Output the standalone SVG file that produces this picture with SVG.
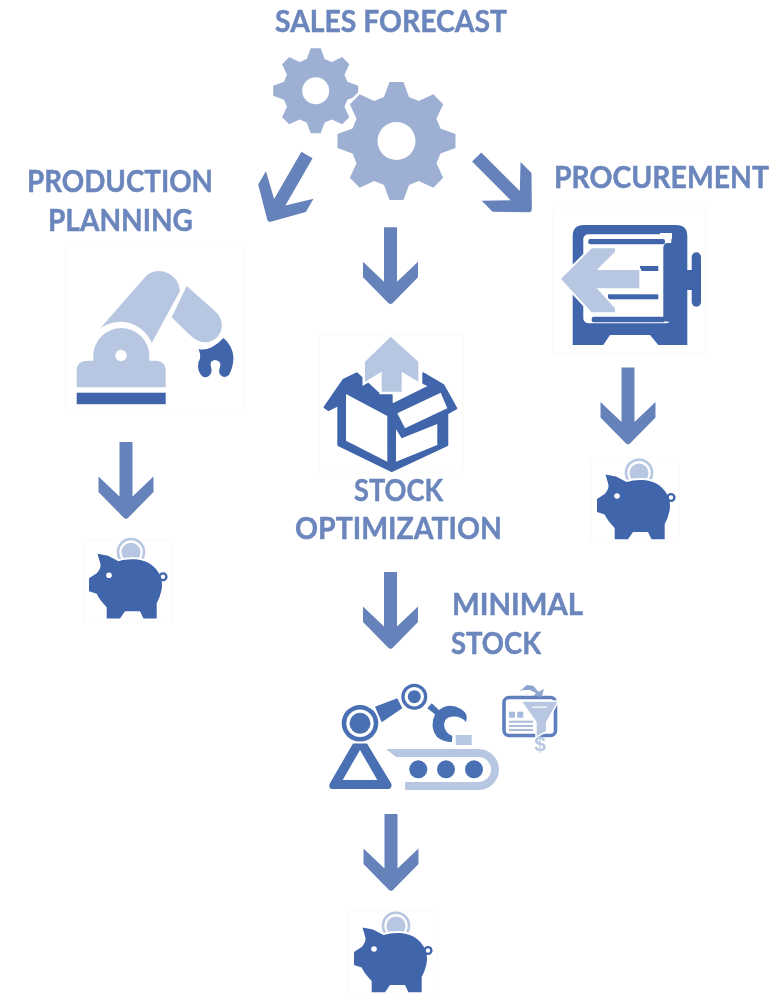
<svg xmlns="http://www.w3.org/2000/svg" xmlns:xlink="http://www.w3.org/1999/xlink" width="782" height="993" viewBox="0 0 782 993">
<style>
.lbl{font-family:"Lato","Liberation Sans",sans-serif;font-weight:700;font-size:30px;fill:#6A86BC;stroke:#6A86BC;stroke-width:.45}
.arr{fill:#6582BB}
.dk{fill:#3F65AB}
.mid{fill:#4A6FB3}
.lt{fill:#B7C7E1}
.w{fill:#fff}
.frame{fill:#fff;stroke:#f9fafb;stroke-width:1}
.gear{fill:#9DB0D3}
</style>
<defs>
<filter id="soft" x="0" y="0" width="100%" height="100%"><feGaussianBlur stdDeviation="0.45"/></filter>
<polygon id="arrow" points="-6.5,0 6.5,0 6.5,54.5 27.5,34.5 27.5,50 2,76 0,77 -2,76 -27.5,50 -27.5,34.5 -6.5,54.5"/>
<polygon id="gearShape" points="-12.5,-44 -7,-59 7,-59 12.5,-44 22.27,-39.95 36.77,-46.67 46.67,-36.77 39.95,-22.27 44,-12.5 59,-7 59,7 44,12.5 39.95,22.27 46.67,36.77 36.77,46.67 22.27,39.95 12.5,44 7,59 -7,59 -12.5,44 -22.27,39.95 -36.77,46.67 -46.67,36.77 -39.95,22.27 -44,12.5 -59,7 -59,-7 -44,-12.5 -39.95,-22.27 -46.67,-36.77 -36.77,-46.67 -22.27,-39.95"/>
<path id="pigBody" d="M354 952 L361.7 947 Q366 942 365.5 938 L362.5 927.5 L373 929.5 L383.5 935 C395 931.5 409 932.5 417 939 C425 945 428.5 955 426.5 964 Q425 971 421.7 977 V992.3 H408.5 L405 985 H390 L385 992.3 H371.7 V981 Q364 973 361.7 967.5 L354 965 Z"/>
<g id="pig">
<circle cx="396" cy="925.7" r="13" fill="#fff" stroke="#B7C7E1" stroke-width="2.6"/>
<circle cx="396" cy="926" r="9.5" class="lt"/>
<use xlink:href="#pigBody" href="#pigBody" fill="#fff" stroke="#fff" stroke-width="4"/>
<use xlink:href="#pigBody" href="#pigBody" class="dk"/>
<circle cx="428" cy="950.5" r="3.4" fill="none" stroke="#3F65AB" stroke-width="2.4"/>
<circle cx="374" cy="949" r="2.8" class="w"/>
</g>
</defs>
<g filter="url(#soft)">
<g id="connectors" class="arr">
<use xlink:href="#arrow" href="#arrow" transform="translate(390.5,227.3)"/>
<use xlink:href="#arrow" href="#arrow" transform="translate(390.5,572)"/>
<use xlink:href="#arrow" href="#arrow" transform="translate(391,814)"/>
<use xlink:href="#arrow" href="#arrow" transform="translate(628,367.5)"/>
<use xlink:href="#arrow" href="#arrow" transform="translate(126,442)"/>
<use xlink:href="#arrow" href="#arrow" transform="translate(307,155) rotate(30)"/>
<use xlink:href="#arrow" href="#arrow" transform="translate(476.7,157) rotate(-45)"/>
</g>
<g id="sales-forecast">
<text class="lbl" x="275" y="32" textLength="232" lengthAdjust="spacingAndGlyphs">SALES FORECAST</text>
<g class="gear">
<use xlink:href="#gearShape" href="#gearShape" transform="translate(315.7,90.7) scale(0.72)"/>
<use xlink:href="#gearShape" href="#gearShape" transform="translate(396.5,141)" stroke="#fff" stroke-width="5" paint-order="stroke"/>
</g>
<circle cx="315.7" cy="90.7" r="13.5" class="w"/>
<circle cx="396.5" cy="141" r="19" class="w"/>
</g>
<g id="production-planning">
<text class="lbl" x="27" y="191.5" textLength="186" lengthAdjust="spacingAndGlyphs">PRODUCTION</text>
<text class="lbl" x="48" y="231" textLength="145" lengthAdjust="spacingAndGlyphs">PLANNING</text>
<rect class="frame" x="66" y="243" width="177" height="170"/>
<path class="lt" d="M76.7 387.3 V371 Q76.7 360.7 87 360.7 H93.3 V356 A28 28 0 0 1 149.3 356 V360.7 H155 Q165.7 360.7 165.7 371 V387.3 Z"/>
<circle cx="121" cy="355.5" r="5.7" class="w"/>
<rect class="dk" x="76.7" y="392.7" width="89" height="11.5"/>
<path class="lt" d="M100 328.5 L147 275 A21 21 0 0 1 180 291 L151.7 343 A34 34 0 0 0 100 328.5 Z"/>
<path class="lt" d="M186.7 286 L216 312 C224 320 224 332 215 339 C207 345 198 342 192 337 L171.7 317.3 Z"/>
<path class="dk" d="M198.5 349 Q210 352 223.5 338 Q233 346 233.5 358 Q233 368 229 375 Q224 379 220.5 375 Q218 372 220 367 Q222 362 216 360 Q209 360 211 367 Q213 372 209 376 Q204 379 201 375 Q197 370 198.5 362 Q202 357 198.5 349 Z"/>
</g>
<g id="stock-optimization">
<rect class="frame" x="319" y="335" width="144" height="137"/>
<path class="dk" stroke="#3F65AB" stroke-width="2" stroke-linejoin="round" d="M324.5 407.3 L343.3 380 L356.7 373.3 L378 393 L391.7 395 V405 L430 386 L423.3 383 V373.3 L443.3 385 L456.3 408.3 L447.3 413.3 V445 L391.7 471 L338.3 445 V405 L328.3 410 Z"/>
<polygon class="w" points="346,394 387.3,416 387.3,461.7 346,440.7"/>
<polygon class="w" points="396,429.3 401.7,438.3 437.3,424 437.3,445 396,461.7"/>
<polygon class="w" points="397.3,413.3 440.7,392.7 447.3,408.3 405,428.3"/>
<polygon class="lt" stroke="#fff" stroke-width="5" paint-order="stroke" points="390.7,336.7 418.3,361.7 418.3,381.7 401.7,371.7 401.7,391.7 381.7,391.7 381.7,371.7 365,381.7 365,361.7"/>
<text class="lbl" x="354" y="501" textLength="89" lengthAdjust="spacingAndGlyphs">STOCK</text>
<text class="lbl" x="295" y="539" textLength="207" lengthAdjust="spacingAndGlyphs">OPTIMIZATION</text>
</g>
<g id="procurement">
<text class="lbl" x="554" y="188" textLength="215" lengthAdjust="spacingAndGlyphs">PROCUREMENT</text>
<rect class="frame" x="553" y="208" width="152" height="145"/>
<path class="dk" d="M572.7 345 V236 Q572.7 225 584 225 H676 Q687.3 225 687.3 236 V345 H658.3 L650 335 H610 L603.3 345 Z"/>
<rect class="w" x="583.3" y="234.3" width="88" height="89" rx="5"/>
<rect class="dk" x="588.3" y="239" width="76.7" height="5.3" rx="2"/>
<rect class="dk" x="591.7" y="316.7" width="73.3" height="5.6" rx="2"/>
<rect class="w" x="660" y="233" width="12" height="6"/>
<path class="dk" d="M672.5 238 H686 V324 H672.5 V321.7 H668 Q663.3 321.7 663.3 317 V248 Q663.3 243 668 243 H672.5 Z"/>
<rect class="dk" x="685" y="270" width="8" height="20"/>
<rect class="dk" x="691.7" y="252.3" width="9.3" height="54.4" rx="4.6"/>
<rect class="dk" x="640" y="266" width="18.3" height="5"/>
<rect class="dk" x="608" y="294.3" width="50.3" height="5"/>
<polygon class="lt" stroke="#fff" stroke-width="4" paint-order="stroke" stroke-linejoin="round" points="561,279 591.7,248.3 615,248.3 615,251.7 596.7,270 639.3,270 639.3,288.3 596.7,288.3 615,308.3 615,312.3 591.7,312.3"/>
</g>
<g id="minimal-stock">
<text class="lbl" x="452" y="615" textLength="131" lengthAdjust="spacingAndGlyphs">MINIMAL</text>
<text class="lbl" x="451" y="654" textLength="90" lengthAdjust="spacingAndGlyphs">STOCK</text>
</g>
<g id="factory">
<circle cx="360" cy="723.3" r="18.3" class="mid"/>
<circle cx="360" cy="723.3" r="13.7" class="w"/>
<circle cx="360" cy="723.3" r="10.5" class="mid"/>
<circle cx="414.3" cy="696.7" r="13" class="mid"/>
<circle cx="414.3" cy="696.7" r="9.7" class="w"/>
<circle cx="414.3" cy="696.7" r="6.5" class="mid"/>
<polygon class="mid" points="375,706.7 397.3,698.3 402.3,708.3 381.7,722.3"/>
<path class="mid" fill-rule="evenodd" d="M353 743.5 H367 L391.5 784 Q392 789 388 789 H332 Q328.5 789 329.5 784 Z M360 750 L342.7 780 H377.3 Z"/>
<path class="mid" d="M431.7 703.3 L427.3 708.3 L435 714.3 Q429 727 437 737 Q443 742 452 742 L452.3 736 Q445 733 444 725 Q444 717 453 716.5 Q461 716 466 722 Q469 714 461 709 Q449 702 439 710 Z"/>
<rect class="lt" x="455.7" y="735" width="16" height="10"/>
<path class="lt" d="M386 749 H478.5 A20.5 20.5 0 0 1 478.5 790 H405 V782 H478.5 A12.5 12.5 0 0 0 478.5 757 H396 Z"/>
<circle cx="418.3" cy="769.3" r="9" class="mid"/>
<circle cx="446" cy="769.3" r="9" class="mid"/>
<circle cx="474" cy="769.3" r="9" class="mid"/>
</g>
<g id="funnel">
<rect x="504" y="697.5" width="51.5" height="38" rx="5" fill="#fff" stroke="#5F80BC" stroke-width="3.6"/>
<rect x="509" y="711.7" width="6" height="6" fill="#A9BBDA"/>
<rect x="517.3" y="711.7" width="6" height="6" fill="#A9BBDA"/>
<rect x="509" y="720.7" width="24" height="2" fill="#A9BBDA"/>
<rect x="509" y="725" width="24" height="2" fill="#A9BBDA"/>
<rect x="509" y="729" width="24" height="2" fill="#A9BBDA"/>
<polygon class="lt" stroke="#fff" stroke-width="3" paint-order="stroke" points="522.3,701.7 557.3,701.7 546,722 546,731 536.7,736 536.7,722"/>
<rect class="w" x="532" y="706.5" width="15" height="1.2"/>
<polygon fill="#8FA6CE" points="519.3,691.7 526.7,685 533.3,685.7 538.3,691.7 544,689 541.7,696.7 533.3,695.7 536,693 530,690 523,690"/>
<text x="540" y="750.5" text-anchor="middle" font-family="'Liberation Sans',sans-serif" font-weight="700" font-size="21" fill="#B7C7E1">$</text>
</g>
<g id="piggy-left">
<rect class="frame" x="84" y="540" width="88" height="82"/>
<use xlink:href="#pig" href="#pig" transform="translate(-265,-373.7)"/>
</g>
<g id="piggy-right">
<rect class="frame" x="591" y="458" width="88" height="84"/>
<use xlink:href="#pig" href="#pig" transform="translate(243,-453)"/>
</g>
<g id="piggy-bottom">
<rect class="frame" x="349" y="911" width="88" height="82"/>
<use xlink:href="#pig" href="#pig"/>
</g>
</g>
</svg>
